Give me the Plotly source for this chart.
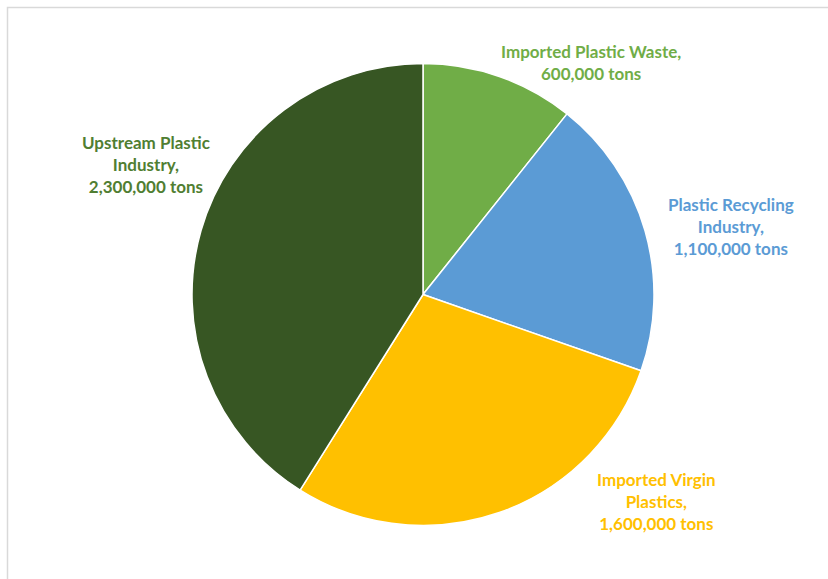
import plotly.graph_objects as go

W, H = 828, 579

# Data
categories = ["Imported Plastic Waste", "Plastic Recycling Industry",
              "Imported Virgin Plastics", "Upstream Plastic Industry"]
label_lines = ["Imported Plastic Waste,",
               "Plastic Recycling<br>Industry,",
               "Imported Virgin<br>Plastics,",
               "Upstream Plastic<br>Industry,"]
values = [600000, 1100000, 1600000, 2300000]

slice_colors = ["#70AD47", "#5B9BD5", "#FFC000", "#375623"]
text_colors = ["#70AD47", "#5B9BD5", "#FFC000", "#507E32"]

# label centre positions in pixels (layout only)
label_pos = [(591, 63), (731, 226), (656, 501), (146, 164)]

cx, cy, r = 423, 294.5, 231

fig = go.Figure()
fig.add_trace(go.Pie(
    labels=categories,
    values=values,
    sort=False,
    direction="clockwise",
    rotation=0,
    marker=dict(colors=slice_colors, line=dict(color="white", width=1.5)),
    textinfo="none",
    hoverinfo="label+value",
    showlegend=False,
    domain=dict(x=[(cx - r) / W, (cx + r) / W],
                y=[1 - (cy + r) / H, 1 - (cy - r) / H]),
))

for lab, v, col, (px, py) in zip(label_lines, values, text_colors, label_pos):
    fig.add_annotation(
        x=px / W, y=1 - py / H, xref="paper", yref="paper",
        text=f"<b>{lab}<br>{v:,} tons</b>",
        showarrow=False, xanchor="center", yanchor="middle", align="center",
        font=dict(family="Lato", size=17, color=col),
    )

fig.add_shape(type="rect", xref="paper", yref="paper",
              x0=7.5 / W, x1=1.02, y0=-0.02, y1=1 - 7.5 / H,
              line=dict(color="#D9D9D9", width=1.5), fillcolor="rgba(0,0,0,0)")

fig.update_layout(
    width=W, height=H,
    margin=dict(l=0, r=0, t=0, b=0),
    paper_bgcolor="white", plot_bgcolor="white",
)

fig.write_html("out.html")
